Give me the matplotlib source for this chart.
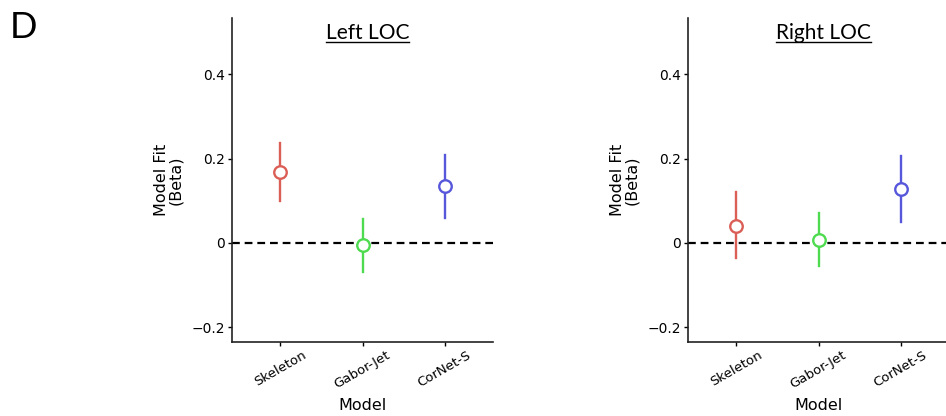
import matplotlib.pyplot as plt
import matplotlib as mpl
from matplotlib.lines import Line2D

# model fits
models = ['Skeleton', 'Gabor-Jet', 'CorNet-S']
colors = ['#db5f57', '#4fdb4f', '#5757db']

left_beta = [0.168, -0.005, 0.135]
left_low = [0.100, -0.070, 0.060]
left_high = [0.238, 0.057, 0.210]

right_beta = [0.041, 0.008, 0.129]
right_low = [-0.035, -0.055, 0.050]
right_high = [0.120, 0.070, 0.207]

yticks = [-0.2, 0, 0.2, 0.4]
yticklabels = ['\u22120.2', '0', '0.2', '0.4']

W, H = 946, 416
fig = plt.figure(figsize=(W / 100, H / 100), dpi=100)


def panel(x0, title, beta, low, high):
    ax = fig.add_axes([x0 / W, 1 - 342 / H, 261 / W, (342 - 18) / H])
    ax.axhline(0, color='black', ls=(0, (3.5, 2.2)), lw=1.6, zorder=1)
    for i in range(len(models)):
        ax.plot([i, i], [low[i], high[i]], color=colors[i], lw=1.7, zorder=2)
        ax.plot(i, beta[i], 'o', ms=9, mfc='white', mec=colors[i], mew=1.7, zorder=3)
    ax.set_xlim(-0.59, 2.59)
    ax.set_ylim(-0.235, 0.534)
    ax.set_yticks(yticks)
    ax.set_yticklabels(yticklabels, fontsize=10)
    ax.set_xticks(range(len(models)))
    ax.set_xticklabels(models, rotation=30, fontsize=9.5, ha='center')
    ax.set_xlabel('Model', fontsize=11.5, labelpad=5)
    ax.set_ylabel('Model Fit\n(Beta)', fontsize=11.5, labelpad=6, linespacing=0.9)
    for s in ['top', 'right']:
        ax.spines[s].set_visible(False)
    for s in ['left', 'bottom']:
        ax.spines[s].set_color('#222222')
        ax.spines[s].set_linewidth(1.2)
    ax.tick_params(length=3, width=1, pad=2)
    t = ax.text(0.52, 0.955, title, transform=ax.transAxes, ha='center', va='center',
                fontsize=15, family='Lato')
    fig.canvas.draw()
    bb = t.get_window_extent().transformed(ax.transAxes.inverted())
    ax.add_line(Line2D([bb.x0, bb.x1], [bb.y0 + 0.003, bb.y0 + 0.003], transform=ax.transAxes,
                       color='black', lw=1, clip_on=False))
    return ax


panel(232, 'Left LOC', left_beta, left_low, left_high)
panel(688, 'Right LOC', right_beta, right_low, right_high)

fig.text(10 / W, 1 - 27 / H, 'D', fontsize=26, family='Lato', va='center', ha='left')

plt.savefig('out.png', dpi=100)
